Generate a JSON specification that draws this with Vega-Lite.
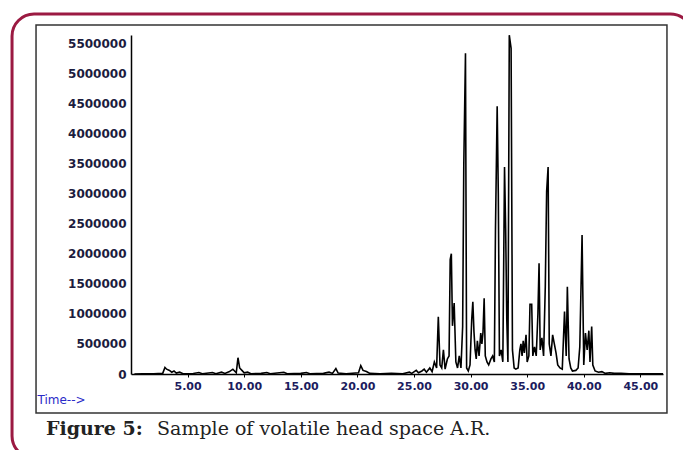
{
  "$schema": "https://vega.github.io/schema/vega-lite/v6.json",
  "autosize": {"type": "none"},
  "width": 532,
  "height": 339,
  "padding": {"left": 131, "top": 35, "right": 20, "bottom": 76},
  "background": "white",
  "config": {"view": {"stroke": null}},
  "resolve": {"axis": {"x": "independent", "y": "independent"}},
  "datasets": {
    "chrom": [
      {"t": 0.3, "v": 0}, {"t": 1.0, "v": 5000}, {"t": 2.0, "v": 5000}, {"t": 2.8, "v": 10000},
      {"t": 3.0, "v": 110000}, {"t": 3.15, "v": 80000}, {"t": 3.4, "v": 60000}, {"t": 3.6, "v": 30000},
      {"t": 3.8, "v": 50000}, {"t": 4.0, "v": 15000}, {"t": 4.3, "v": 30000}, {"t": 4.6, "v": 5000},
      {"t": 5.5, "v": 8000}, {"t": 6.0, "v": 25000}, {"t": 6.3, "v": 5000}, {"t": 7.2, "v": 25000},
      {"t": 7.5, "v": 5000}, {"t": 8.0, "v": 30000}, {"t": 8.3, "v": 10000}, {"t": 8.7, "v": 40000},
      {"t": 9.0, "v": 80000}, {"t": 9.3, "v": 20000}, {"t": 9.45, "v": 270000}, {"t": 9.6, "v": 100000},
      {"t": 9.8, "v": 60000}, {"t": 10.0, "v": 20000}, {"t": 10.3, "v": 30000}, {"t": 10.6, "v": 5000},
      {"t": 11.5, "v": 10000}, {"t": 12.0, "v": 25000}, {"t": 12.3, "v": 5000}, {"t": 13.5, "v": 30000},
      {"t": 13.8, "v": 5000}, {"t": 15.0, "v": 10000}, {"t": 15.5, "v": 25000}, {"t": 15.8, "v": 5000},
      {"t": 17.0, "v": 10000}, {"t": 17.5, "v": 30000}, {"t": 17.8, "v": 10000}, {"t": 18.1, "v": 90000},
      {"t": 18.3, "v": 15000}, {"t": 19.0, "v": 5000}, {"t": 20.1, "v": 20000}, {"t": 20.3, "v": 140000},
      {"t": 20.5, "v": 60000}, {"t": 20.8, "v": 40000}, {"t": 21.1, "v": 10000}, {"t": 22.0, "v": 5000},
      {"t": 23.0, "v": 10000}, {"t": 24.0, "v": 5000}, {"t": 24.6, "v": 30000}, {"t": 24.8, "v": 10000},
      {"t": 25.2, "v": 60000}, {"t": 25.4, "v": 20000}, {"t": 25.7, "v": 50000}, {"t": 25.9, "v": 80000},
      {"t": 26.1, "v": 30000}, {"t": 26.4, "v": 100000}, {"t": 26.6, "v": 40000}, {"t": 26.8, "v": 200000},
      {"t": 27.0, "v": 100000}, {"t": 27.15, "v": 950000}, {"t": 27.3, "v": 150000}, {"t": 27.45, "v": 100000},
      {"t": 27.6, "v": 400000}, {"t": 27.75, "v": 80000}, {"t": 27.95, "v": 250000}, {"t": 28.1, "v": 300000},
      {"t": 28.2, "v": 1900000}, {"t": 28.3, "v": 2000000}, {"t": 28.4, "v": 800000}, {"t": 28.55, "v": 1180000},
      {"t": 28.7, "v": 200000}, {"t": 28.85, "v": 100000}, {"t": 29.0, "v": 300000}, {"t": 29.15, "v": 100000},
      {"t": 29.3, "v": 790000}, {"t": 29.4, "v": 3470000}, {"t": 29.55, "v": 5330000}, {"t": 29.65, "v": 100000},
      {"t": 29.8, "v": 50000}, {"t": 29.95, "v": 150000}, {"t": 30.1, "v": 900000}, {"t": 30.2, "v": 1200000},
      {"t": 30.3, "v": 700000}, {"t": 30.4, "v": 400000}, {"t": 30.5, "v": 250000}, {"t": 30.6, "v": 550000},
      {"t": 30.75, "v": 300000}, {"t": 30.9, "v": 680000}, {"t": 31.0, "v": 500000}, {"t": 31.1, "v": 700000},
      {"t": 31.2, "v": 1260000}, {"t": 31.3, "v": 300000}, {"t": 31.45, "v": 200000}, {"t": 31.6, "v": 150000},
      {"t": 31.8, "v": 250000}, {"t": 31.95, "v": 300000}, {"t": 32.1, "v": 200000}, {"t": 32.2, "v": 2400000},
      {"t": 32.35, "v": 4450000}, {"t": 32.45, "v": 3000000}, {"t": 32.55, "v": 300000}, {"t": 32.7, "v": 400000},
      {"t": 32.85, "v": 200000}, {"t": 33.0, "v": 3440000}, {"t": 33.1, "v": 2400000}, {"t": 33.2, "v": 900000},
      {"t": 33.3, "v": 200000}, {"t": 33.42, "v": 5630000}, {"t": 33.58, "v": 5410000}, {"t": 33.7, "v": 400000},
      {"t": 33.85, "v": 100000}, {"t": 34.0, "v": 80000}, {"t": 34.2, "v": 100000}, {"t": 34.35, "v": 400000},
      {"t": 34.45, "v": 500000}, {"t": 34.55, "v": 300000}, {"t": 34.65, "v": 550000}, {"t": 34.75, "v": 350000},
      {"t": 34.9, "v": 650000}, {"t": 35.0, "v": 200000}, {"t": 35.15, "v": 300000}, {"t": 35.25, "v": 1160000},
      {"t": 35.4, "v": 1160000}, {"t": 35.5, "v": 300000}, {"t": 35.65, "v": 450000}, {"t": 35.8, "v": 300000},
      {"t": 35.95, "v": 1000000}, {"t": 36.05, "v": 1840000}, {"t": 36.15, "v": 400000}, {"t": 36.3, "v": 600000},
      {"t": 36.45, "v": 300000}, {"t": 36.6, "v": 1450000}, {"t": 36.72, "v": 3030000}, {"t": 36.85, "v": 3440000},
      {"t": 36.95, "v": 500000}, {"t": 37.1, "v": 300000}, {"t": 37.25, "v": 650000}, {"t": 37.4, "v": 500000},
      {"t": 37.55, "v": 350000}, {"t": 37.7, "v": 150000}, {"t": 37.9, "v": 100000}, {"t": 38.1, "v": 80000},
      {"t": 38.3, "v": 1040000}, {"t": 38.45, "v": 300000}, {"t": 38.55, "v": 1450000}, {"t": 38.7, "v": 250000},
      {"t": 38.85, "v": 100000}, {"t": 39.0, "v": 50000}, {"t": 39.3, "v": 60000}, {"t": 39.5, "v": 100000},
      {"t": 39.65, "v": 450000}, {"t": 39.85, "v": 2310000}, {"t": 40.0, "v": 150000}, {"t": 40.15, "v": 680000},
      {"t": 40.3, "v": 400000}, {"t": 40.45, "v": 720000}, {"t": 40.55, "v": 200000}, {"t": 40.7, "v": 790000},
      {"t": 40.8, "v": 150000}, {"t": 41.0, "v": 50000}, {"t": 41.3, "v": 30000}, {"t": 41.6, "v": 40000},
      {"t": 41.9, "v": 10000}, {"t": 42.3, "v": 20000}, {"t": 42.7, "v": 10000}, {"t": 43.3, "v": 10000},
      {"t": 44.0, "v": 5000}, {"t": 45.0, "v": 5000}, {"t": 46.0, "v": 5000}, {"t": 47.0, "v": 5000}
    ]
  },
  "layer": [
    {
      "data": {"name": "chrom"},
      "mark": {"type": "line", "color": "black", "strokeWidth": 1.6, "strokeJoin": "miter"},
      "encoding": {
        "x": {
          "field": "t", "type": "quantitative",
          "scale": {"domain": [0, 47], "nice": false, "zero": false},
          "axis": {
            "values": [5, 10, 15, 20, 25, 30, 35, 40, 45],
            "format": ".2f",
            "grid": false,
            "labelOverlap": false,
            "domainColor": "black", "domainWidth": 1.5,
            "tickColor": "black", "tickSize": 3, "tickWidth": 1,
            "labelFont": "DejaVu Sans", "labelFontWeight": "bold", "labelFontSize": 11,
            "labelColor": "#1c1c5e", "labelPadding": 3,
            "title": "Time-->",
            "titleX": -94, "titleY": 25, "titleAlign": "left", "titleBaseline": "middle",
            "titleFont": "DejaVu Sans", "titleFontSize": 12, "titleFontWeight": "normal", "titleColor": "#2a2ac8"
          }
        },
        "y": {
          "field": "v", "type": "quantitative",
          "scale": {"domain": [0, 5633000], "nice": false},
          "axis": {
            "values": [0, 500000, 1000000, 1500000, 2000000, 2500000, 3000000, 3500000, 4000000, 4500000, 5000000, 5500000],
            "format": "d",
            "grid": false,
            "ticks": false,
            "labelOverlap": false,
            "domainColor": "black", "domainWidth": 1.5,
            "labelFont": "DejaVu Sans", "labelFontWeight": "bold", "labelFontSize": 12,
            "labelColor": "#1c1c3e", "labelPadding": 5,
            "title": null
          }
        }
      }
    },
    {
      "data": {"values": [{}]},
      "mark": {"type": "rect", "filled": false, "color": "#9b1a42", "strokeWidth": 3, "cornerRadius": 22, "clip": false},
      "encoding": {
        "x": {"datum": -10.51, "type": "quantitative", "axis": null},
        "x2": {"datum": 49.6},
        "y": {"datum": 5982000, "type": "quantitative", "axis": null},
        "y2": {"datum": -1396000}
      }
    },
    {
      "data": {"values": [{}]},
      "mark": {"type": "rect", "filled": false, "color": "#333333", "strokeWidth": 1.5, "clip": false},
      "encoding": {
        "x": {"datum": -8.39, "type": "quantitative", "axis": null},
        "x2": {"datum": 47.35},
        "y": {"datum": 5800000, "type": "quantitative", "axis": null},
        "y2": {"datum": -648000}
      }
    },
    {
      "data": {"values": [{"label": "Figure 5:", "cx": -7.51, "cy": -1014000}]},
      "mark": {"type": "text", "align": "left", "baseline": "alphabetic", "font": "DejaVu Serif", "fontSize": 19, "fontWeight": "bold", "color": "#222222", "clip": false},
      "encoding": {
        "x": {"field": "cx", "type": "quantitative", "axis": null},
        "y": {"field": "cy", "type": "quantitative", "axis": null},
        "text": {"field": "label"}
      }
    },
    {
      "data": {"values": [{"label": "Sample of volatile head space A.R.", "cx": 2.3, "cy": -1014000}]},
      "mark": {"type": "text", "align": "left", "baseline": "alphabetic", "font": "DejaVu Serif", "fontSize": 19, "fontWeight": "normal", "color": "#222222", "clip": false},
      "encoding": {
        "x": {"field": "cx", "type": "quantitative", "axis": null},
        "y": {"field": "cy", "type": "quantitative", "axis": null},
        "text": {"field": "label"}
      }
    }
  ]
}
